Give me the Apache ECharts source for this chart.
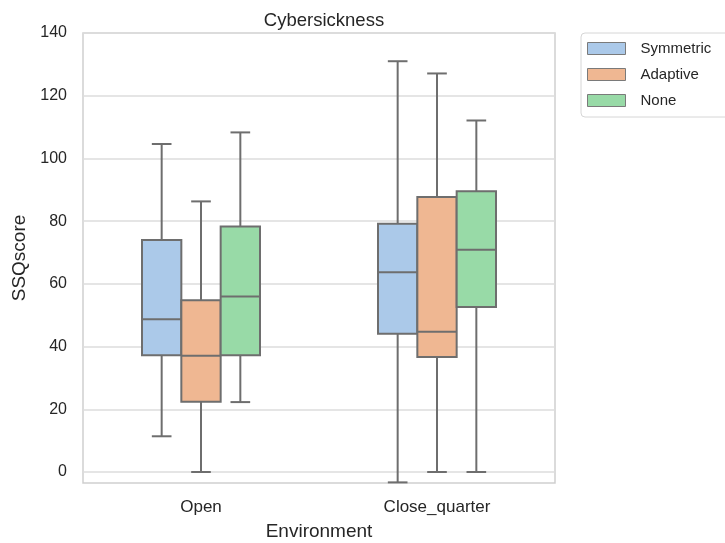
<!DOCTYPE html>
<html>
<head>
<meta charset="utf-8">
<script src="https://cdn.jsdelivr.net/npm/echarts@6/dist/echarts.min.js"></script>
<style>
  html, body { margin: 0; padding: 0; background: #ffffff; }
  #chart { width: 725px; height: 543px; }
</style>
</head>
<body>
<div id="chart"></div>
<script>
// Environments on the x axis
const environments = ['Open', 'Close_quarter'];
// Hue groups (rendering technique)
const groups = ['Symmetric', 'Adaptive', 'None'];
const groupColors = ['#abc9e9', '#efb792', '#98daa7'];

// Box statistics per environment: [lower whisker, Q1, median, Q3, upper whisker]
const symmetricStats = [
  [11.4, 37.2, 48.7, 74.0, 104.6],
  [-3.3, 44.1, 63.7, 79.2, 131.0]
];
const adaptiveStats = [
  [0, 22.4, 37.1, 54.8, 86.3],
  [0, 36.7, 44.7, 87.7, 127.1]
];
const noneStats = [
  [22.3, 37.2, 56.0, 78.3, 108.3],
  [0, 52.6, 70.9, 89.5, 112.1]
];
const statsByGroup = [symmetricStats, adaptiveStats, noneStats];

// Y axis tick values
const yTicks = [0, 20, 40, 60, 80, 100, 120, 140];

const edgeColor = '#6e6e6e';
const textColor = '#262626';
const fontFamily = '"Liberation Sans", Arial, sans-serif';

function makeRenderer(groupIndex) {
  return function (params, api) {
    const ci = api.value(0);
    const band = api.size([1, 0])[0];
    const boxW = band * 0.5 / groups.length;
    const cx = api.coord([ci, 0])[0] + (groupIndex - (groups.length - 1) / 2) * boxW;
    const yLow = api.coord([ci, api.value(1)])[1];
    const yQ1 = api.coord([ci, api.value(2)])[1];
    const yMed = api.coord([ci, api.value(3)])[1];
    const yQ3 = api.coord([ci, api.value(4)])[1];
    const yHigh = api.coord([ci, api.value(5)])[1];
    const capHalf = boxW / 4;
    const lineStyle = { stroke: edgeColor, lineWidth: 2, fill: null };
    return {
      type: 'group',
      children: [
        { type: 'line', shape: { x1: cx, y1: yQ3, x2: cx, y2: yHigh }, style: lineStyle },
        { type: 'line', shape: { x1: cx, y1: yQ1, x2: cx, y2: yLow }, style: lineStyle },
        { type: 'line', shape: { x1: cx - capHalf, y1: yHigh, x2: cx + capHalf, y2: yHigh }, style: lineStyle },
        { type: 'line', shape: { x1: cx - capHalf, y1: yLow, x2: cx + capHalf, y2: yLow }, style: lineStyle },
        {
          type: 'rect',
          shape: { x: cx - boxW / 2, y: yQ3, width: boxW, height: yQ1 - yQ3 },
          style: { fill: groupColors[groupIndex], stroke: edgeColor, lineWidth: 2 }
        },
        { type: 'line', shape: { x1: cx - boxW / 2, y1: yMed, x2: cx + boxW / 2, y2: yMed }, style: lineStyle }
      ]
    };
  };
}

const series = groups.map(function (name, gi) {
  return {
    name: name,
    type: 'custom',
    renderItem: makeRenderer(gi),
    encode: { x: 0, y: [1, 2, 3, 4, 5] },
    itemStyle: { color: groupColors[gi], borderColor: edgeColor, borderWidth: 1 },
    data: statsByGroup[gi].map(function (s, ci) { return [ci].concat(s); }),
    clip: false
  };
});

const chart = echarts.init(document.getElementById('chart'), null, { renderer: 'canvas' });
chart.setOption({
  animation: false,
  backgroundColor: '#ffffff',
  textStyle: { fontFamily: fontFamily },
  title: {
    text: 'Cybersickness',
    left: 319,
    textAlign: 'center',
    top: 6,
    textStyle: { fontSize: 18.5, fontWeight: 'normal', color: textColor, fontFamily: fontFamily }
  },
  legend: {
    left: 581,
    top: 33,
    orient: 'vertical',
    padding: [8, 30, 9, 6],
    itemWidth: 38,
    itemHeight: 12,
    itemGap: 11,
    borderColor: '#d6d6d6',
    borderWidth: 1,
    borderRadius: 4,
    backgroundColor: '#ffffff',
    textStyle: { fontSize: 15, color: textColor, fontFamily: fontFamily, padding: [0, 0, 0, 10] },
    data: groups.map(function (g, i) {
      return { name: g, icon: 'rect', itemStyle: { color: groupColors[i], borderColor: '#7a7a7a', borderWidth: 1 } };
    })
  },
  grid: {
    left: 83, right: 170, top: 33, bottom: 60,
    outerBoundsMode: 'none',
    containLabel: false,
    show: true,
    borderColor: '#cfcfcf',
    borderWidth: 1.5,
    backgroundColor: '#ffffff'
  },
  xAxis: {
    type: 'category',
    data: environments,
    name: 'Environment',
    nameLocation: 'middle',
    nameGap: 39,
    nameTextStyle: { fontSize: 19, color: textColor, fontFamily: fontFamily },
    axisLine: { show: false },
    axisTick: { show: false },
    axisLabel: { fontSize: 17, color: textColor, margin: 16, fontFamily: fontFamily },
    splitLine: { show: false }
  },
  yAxis: {
    type: 'value',
    min: -3.5,
    max: 140,
    name: 'SSQscore',
    nameLocation: 'middle',
    nameGap: 52,
    nameTextStyle: { fontSize: 19, color: textColor, fontFamily: fontFamily },
    axisLine: { show: false },
    axisTick: { show: false, customValues: yTicks },
    axisLabel: { fontSize: 16, color: textColor, margin: 16, fontFamily: fontFamily, customValues: yTicks },
    splitLine: { show: true, lineStyle: { color: '#dcdcdc', width: 1.5 } }
  },
  series: series
});
</script>
</body>
</html>
